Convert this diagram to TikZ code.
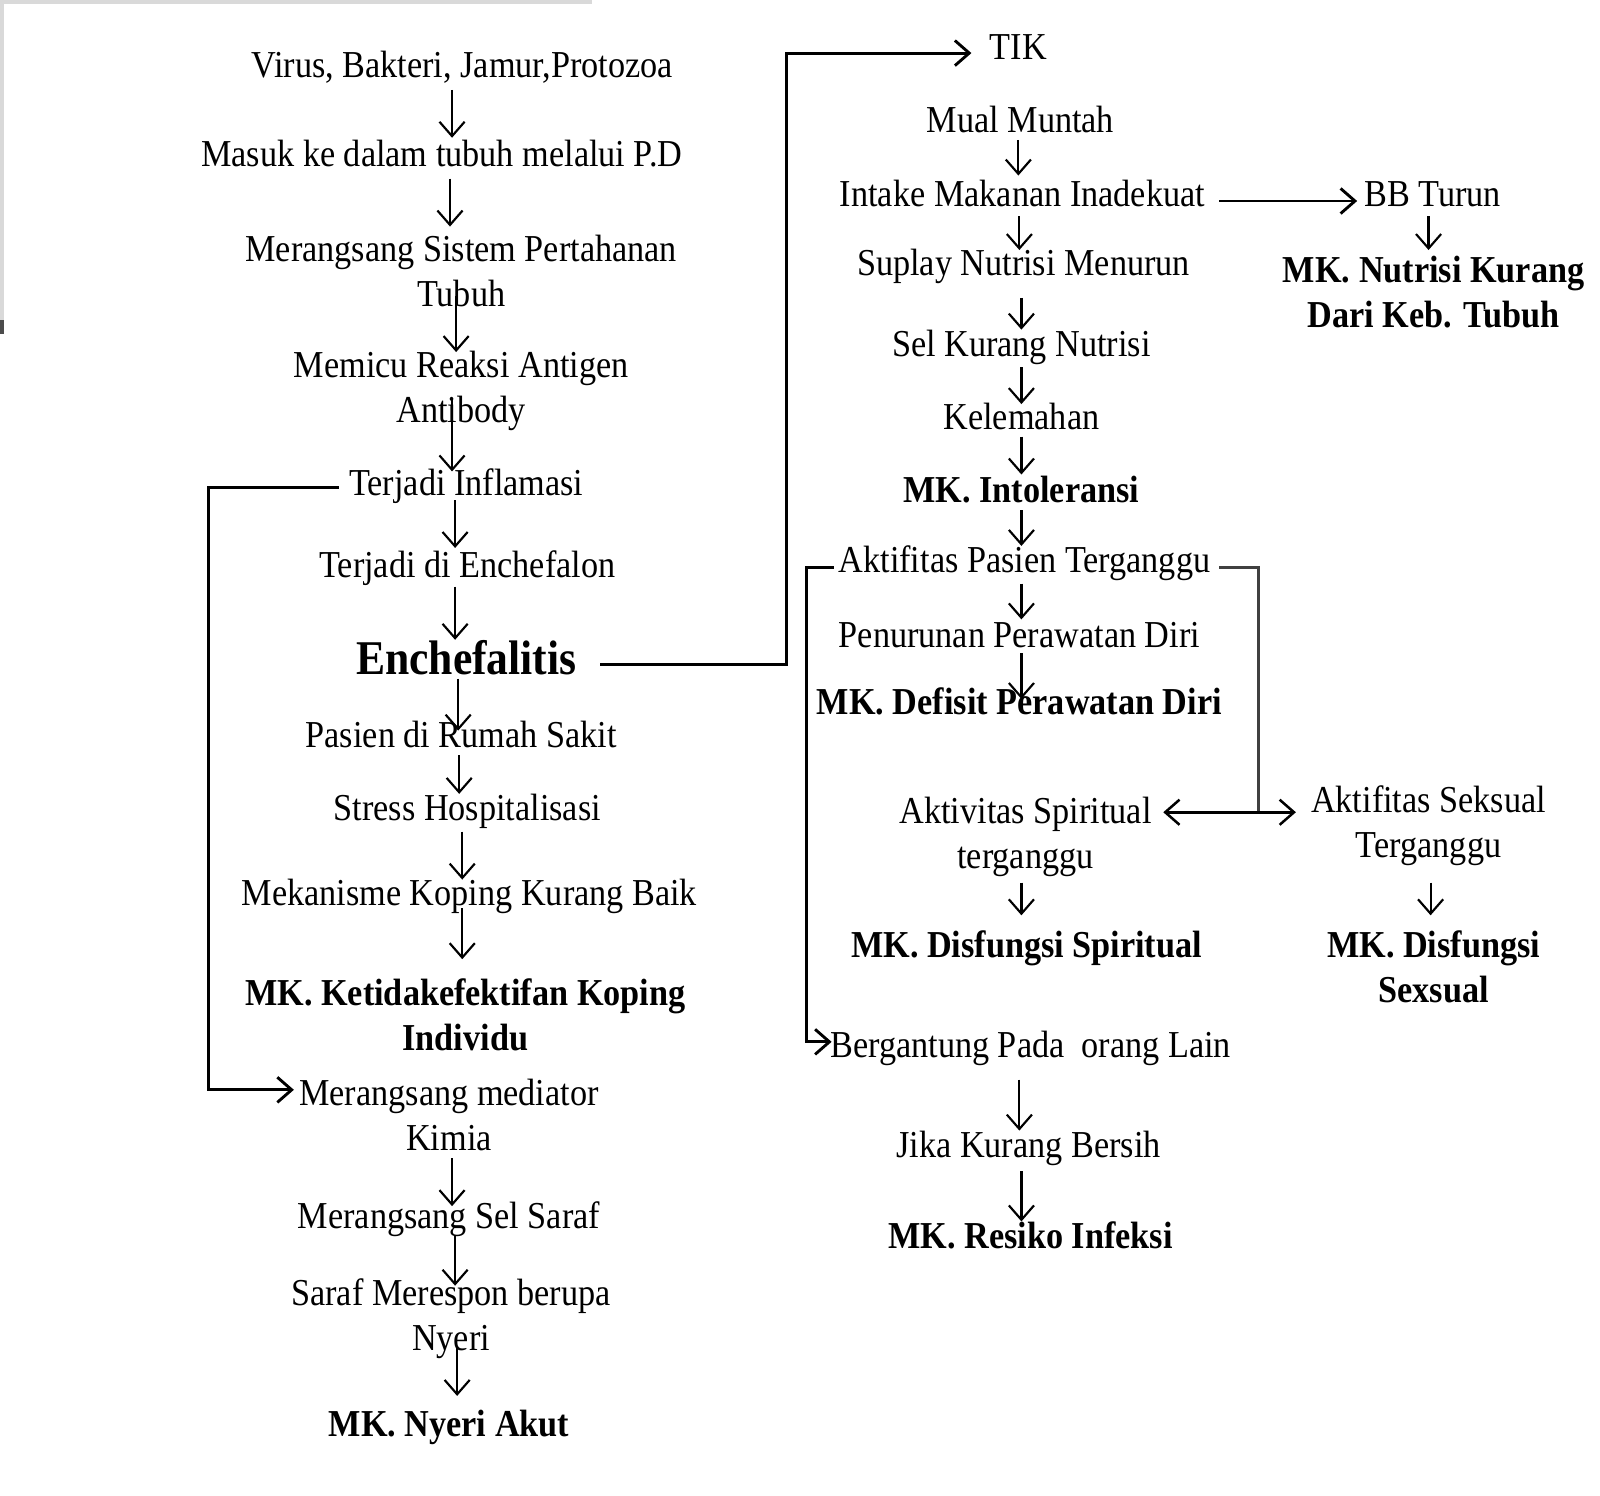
\documentclass[tikz,border=0pt]{standalone}
\usepackage{fontspec}
\setmainfont{Liberation Serif}[FakeStretch=0.9]
\usetikzlibrary{arrows.meta}
\newcommand\dgnorm{\fontsize{10.6pt}{12.5pt}\selectfont}
\newcommand\dgbold{\fontsize{10.6pt}{12.5pt}\selectfont\bfseries}
\newcommand\dgbig{\fontsize{13.5pt}{16pt}\selectfont\bfseries}
\tikzset{
  t/.style={anchor=base, inner sep=0pt, align=center, font=\dgnorm},
  tb/.style={anchor=base, inner sep=0pt, align=center, font=\dgbold},
  arr/.style={line width=0.6pt, -{Straight Barb[length=4pt,width=7pt]}},
  dbl/.style={line width=0.7pt, {Straight Barb[length=4pt,width=7pt]}-{Straight Barb[length=4pt,width=7pt]}},
  conn/.style={line width=0.8pt},
}
\begin{document}
\begin{tikzpicture}[x=0.01cm,y=-0.01cm]
\useasboundingbox (0,0) rectangle (1568,1466);
% screenshot frame remnants
\fill[gray!30] (0,0) rectangle (580,4);
\fill[gray!30] (0,0) rectangle (4,325);
\fill[black!70] (0,314) rectangle (4,327);

% ---------- left column (multi-line nodes: base = last line) ----------
\node[t] (virus) at (453,76) {Virus, Bakteri, Jamur,Protozoa};
\node[t] (masuk) at (433,163) {Masuk ke dalam tubuh melalui P.D};
\node[t] (msp) at (452,300) {Merangsang Sistem Pertahanan\\Tubuh};
\node[t] (memicu) at (452,414) {Memicu Reaksi Antigen\\Antibody};
\node[t] (inflam) at (457,486) {Terjadi Inflamasi};
\node[t] (enchefalon) at (458,566) {Terjadi di Enchefalon};
\node[anchor=base, inner sep=0pt, font=\dgbig] (enchefalitis) at (457,661) {Enchefalitis};
\node[t] (pasien) at (452,733) {Pasien di Rumah Sakit};
\node[t] (stress) at (458,804) {Stress Hospitalisasi};
\node[t] (mekanisme) at (460,887) {Mekanisme Koping Kurang Baik};
\node[tb] (mkkoping) at (456,1029) {MK. Ketidakefektifan Koping\\Individu};
\node[t] (mediator) at (440,1127) {Merangsang mediator\\Kimia};
\node[t] (selsaraf) at (440,1204) {Merangsang Sel Saraf};
\node[t] (respon) at (442,1323) {Saraf Merespon berupa\\Nyeri};
\node[tb] (nyeri) at (440,1408) {MK. Nyeri Akut};

% ---------- right column ----------
\node[t] (tik) at (998,58) {TIK};
\node[t] (mual) at (1000,130) {Mual Muntah};
\node[t] (intake) at (1002,202) {Intake Makanan Inadekuat};
\node[t] (bbturun) at (1404,202) {BB Turun};
\node[tb] (mknutrisi) at (1405,321) {MK. Nutrisi Kurang\\Dari Keb. Tubuh};
\node[t] (suplay) at (1003,270) {Suplay Nutrisi Menurun};
\node[t] (sel) at (1001,349) {Sel Kurang Nutrisi};
\node[t] (lemah) at (1001,421) {Kelemahan};
\node[tb] (intol) at (1001,492) {MK. Intoleransi};
\node[t] (aktpasien) at (1004,561) {Aktifitas Pasien Terganggu};
\node[t] (penurunan) at (999,635) {Penurunan Perawatan Diri};
\node[tb] (defisit) at (999,700) {MK. Defisit Perawatan Diri};
\node[t] (spiritual) at (1005,851) {Aktivitas Spiritual\\terganggu};
\node[tb] (disfspir) at (1006,938) {MK. Disfungsi Spiritual};
\node[t] (seksual) at (1400,840) {Aktifitas Seksual\\Terganggu};
\node[tb] (disfsex) at (1405,982) {MK. Disfungsi\\Sexsual};
\node[t] (bergantung) at (1010,1036) {Bergantung Pada\ \ orang Lain};
\node[t] (jika) at (1008,1134) {Jika Kurang Bersih};
\node[tb] (resiko) at (1010,1224) {MK. Resiko Infeksi};

% ---------- left arrows ----------
\draw[arr] (virus.base) ++(-10,12) -- ++(0,47);
\draw[arr] (masuk.base) ++(8,12) -- ++(0,47);
\draw[arr] (msp.base) ++(-5,-10) -- ++(0,55);
\draw[arr] (memicu.base) ++(-9,-24) -- ++(0,72);
\draw[arr] (inflam.base) ++(-11,4) -- ++(0,47);
\draw[arr] (enchefalon.base) ++(-12,9) -- ++(0,52);
\draw[arr] (enchefalitis.base) ++(-8,4) -- ++(0,51);
\draw[arr] (pasien.base) ++(-2,7) -- ++(0,38);
\draw[arr] (stress.base) ++(-5,11) -- ++(0,47);
\draw[arr] (mekanisme.base) ++(-7,3) -- ++(0,50);
\draw[arr] (mediator.base) ++(3,8) -- ++(0,47);
\draw[arr] (selsaraf.base) ++(6,6) -- ++(0,50);
\draw[arr] (respon.base) ++(6,-3) -- ++(0,48);
% loop from inflammation to chemical mediator
\draw[conn, -{Straight Barb[length=4pt,width=7pt]}] (inflam.base) ++(-125,-8) -- ++(-128,0) -- ++(0,590) -- ++(84,0);
% Enchefalitis to TIK
\draw[conn, -{Straight Barb[length=4pt,width=7pt]}] (enchefalitis.base) ++(131,-10) -- ++(183,0) -- ++(0,-599) -- ++(181,0);

% ---------- right arrows ----------
\draw[arr] (mual.base) ++(-2,7) -- ++(0,35);
\draw[conn, -{Straight Barb[length=4pt,width=7pt]}] (intake.base) ++(193,-5) -- ++(135,0);
\draw[arr] (intake.base) ++(-3,10) -- ++(0,33);
\draw[arr] (bbturun.base) ++(-4,10) -- ++(0,33);
\draw[arr] (suplay.base) ++(-2,22) -- ++(0,31);
\draw[arr] (sel.base) ++(0,11) -- ++(0,36);
\draw[arr] (lemah.base) ++(0,7) -- ++(0,37);
\draw[arr] (intol.base) ++(0,8) -- ++(0,35);
\draw[arr] (aktpasien.base) ++(-3,11) -- ++(0,35);
\draw[arr] (penurunan.base) ++(2,5) -- ++(0,45);
\draw[arr] (spiritual.base) ++(-4,14) -- ++(0,32);
\draw[arr] (seksual.base) ++(2,25) -- ++(0,32);
\draw[arr] (bergantung.base) ++(-11,22) -- ++(0,50);
\draw[arr] (jika.base) ++(-7,14) -- ++(0,49);
% brackets from Aktifitas Pasien Terganggu
\draw[conn, -{Straight Barb[length=4pt,width=7pt]}] (aktpasien.base) ++(-187,-5) -- ++(-27,0) -- ++(0,465) -- ++(25,0);
\draw[conn, black!75] (aktpasien.base) ++(191,-5) -- ++(38,0) -- ++(0,240);
\draw[dbl] (spiritual.base) ++(135,-55) -- ++(130,0);
\end{tikzpicture}
\end{document}
